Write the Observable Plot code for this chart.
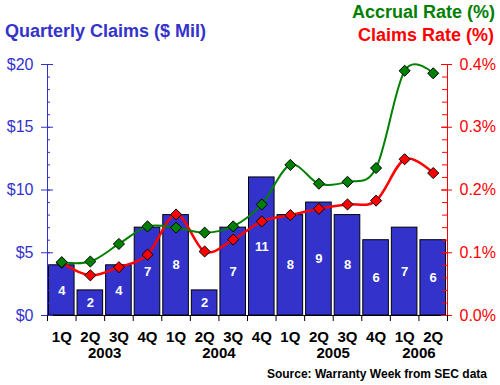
<!DOCTYPE html>
<html><head><meta charset="utf-8">
<script src="https://cdn.jsdelivr.net/npm/d3@7"></script>
<script src="https://cdn.jsdelivr.net/npm/@observablehq/plot@0.6"></script>
<style>
html,body{margin:0;padding:0;background:#fff;}
#wrap{position:relative;width:500px;height:385px;overflow:hidden;font-family:Arial,"Liberation Sans",sans-serif;}
.t{position:absolute;font-weight:bold;font-size:18px;line-height:18px;white-space:nowrap;}
#chart{position:absolute;left:0;top:46px;}
</style></head><body>
<div id="wrap">
<div class="t" style="left:5px;top:22px;color:#3333CC">Quarterly Claims ($ Mil)</div>
<div class="t" style="right:5px;top:3px;color:#008000">Accrual Rate (%)</div>
<div class="t" style="right:6px;top:26px;color:#FF0000">Claims Rate (%)</div>
<div id="chart"></div>
<div class="t" style="right:13px;top:368px;font-size:12px;line-height:12px;color:#000">Source: Warranty Week from SEC data</div>
</div>
<script>
const quarters = ["1Q","2Q","3Q","4Q","1Q","2Q","3Q","4Q","1Q","2Q","3Q","4Q","1Q","2Q"];
const quarterYears = ["2003","2003","2003","2003","2004","2004","2004","2004","2005","2005","2005","2005","2006","2006"];
const claims = [4,2,4,7,8,2,7,11,8,9,8,6,7,6];
const accrualRate = [0.085,0.086,0.114,0.142,0.140,0.132,0.142,0.177,0.240,0.210,0.213,0.235,0.390,0.386];
const claimsRate = [0.084,0.064,0.077,0.097,0.161,0.102,0.121,0.150,0.160,0.170,0.177,0.183,0.249,0.227];
const leftTicks = [0,5,10,15,20];
const leftTickLabels = ["$0","$5","$10","$15","$20"];
const rightTickLabels = ["0.0%","0.1%","0.2%","0.3%","0.4%"];
const rateMax = 0.4, dollarMax = 20;
const k = dollarMax / rateMax;

const rows = quarters.map((q, i) => ({i, q, year: quarterYears[i], claims: claims[i], accrual: accrualRate[i] * k, crate: claimsRate[i] * k}));
const years = d3.groups(rows, d => d.year).map(([year, arr]) => ({year, x: (arr[0].i + arr[arr.length - 1].i + 1) / 2}));

const W = 500, H = 319, ML = 47, MR = 53, MT = 18, MB = 50;
const FW = W - ML - MR;
const BLUE = "#3333CC", GREEN = "#008000", RED = "#FF0000";
const font = "Arial, 'Liberation Sans', sans-serif";
const cx = d => d.i + 0.5;

const plot = Plot.plot({
  width: W, height: H, marginLeft: ML, marginRight: MR, marginTop: MT, marginBottom: MB,
  style: {fontFamily: font, background: "white", overflow: "visible"},
  x: {domain: [0, quarters.length], axis: null, label: null},
  y: {domain: [0, dollarMax], axis: null, label: null},
  marks: [
    Plot.rect(rows, {x1: d => d.i, x2: d => d.i + 1, y1: 0, y2: "claims", insetLeft: 1.5, insetRight: 1.5, fill: BLUE, stroke: "black", strokeWidth: 1}),
    Plot.text(rows, {x: cx, y: d => d.claims / 2, text: d => String(d.claims), fill: "white", fontWeight: "bold", fontSize: 13}),
    Plot.ruleY([0], {stroke: "black"}),
    Plot.ruleX([0], {y1: 0, y2: dollarMax, stroke: BLUE}),
    Plot.ruleX([quarters.length], {y1: 0, y2: dollarMax, stroke: RED}),
    Plot.ruleY(d3.range(0, dollarMax + 1), {insetRight: FW - 3, stroke: BLUE}),
    Plot.ruleY(leftTicks, {insetRight: FW - 6, stroke: BLUE}),
    Plot.ruleY(d3.range(0, dollarMax + 1), {insetLeft: FW - 5, stroke: RED}),
    Plot.ruleY(leftTicks, {insetLeft: FW - 6, stroke: RED}),
    Plot.axisY(leftTicks, {anchor: "left", label: null, tickSize: 6, tickPadding: 8, tickFormat: d => leftTickLabels[leftTicks.indexOf(d)], color: BLUE, fontSize: 16}),
    Plot.axisY(leftTicks, {anchor: "right", label: null, tickSize: 4, tickPadding: 8, tickFormat: d => rightTickLabels[leftTicks.indexOf(d)], color: RED, fontSize: 16}),
    Plot.axisX(d3.range(0, quarters.length + 1), {anchor: "bottom", label: null, tickSize: 6, tickFormat: () => "", color: "black"}),
    Plot.text(rows, {x: cx, y: 0, dy: 22, text: "q", fontWeight: "bold", fontSize: 15, fill: "black"}),
    Plot.text(years, {x: "x", y: 0, dy: 38, text: "year", fontWeight: "bold", fontSize: 15, fill: "black"}),
    Plot.line(rows, {x: cx, y: "crate", curve: "cardinal", stroke: RED, strokeWidth: 2.5}),
    Plot.dot(rows, {x: cx, y: "crate", symbol: "diamond2", r: 5, fill: RED, stroke: "black", strokeWidth: 1}),
    Plot.line(rows, {x: cx, y: "accrual", curve: "cardinal", stroke: GREEN, strokeWidth: 2}),
    Plot.dot(rows, {x: cx, y: "accrual", symbol: "diamond2", r: 5, fill: GREEN, stroke: "black", strokeWidth: 1})
  ]
});
document.getElementById("chart").appendChild(plot);
</script>
</body></html>
